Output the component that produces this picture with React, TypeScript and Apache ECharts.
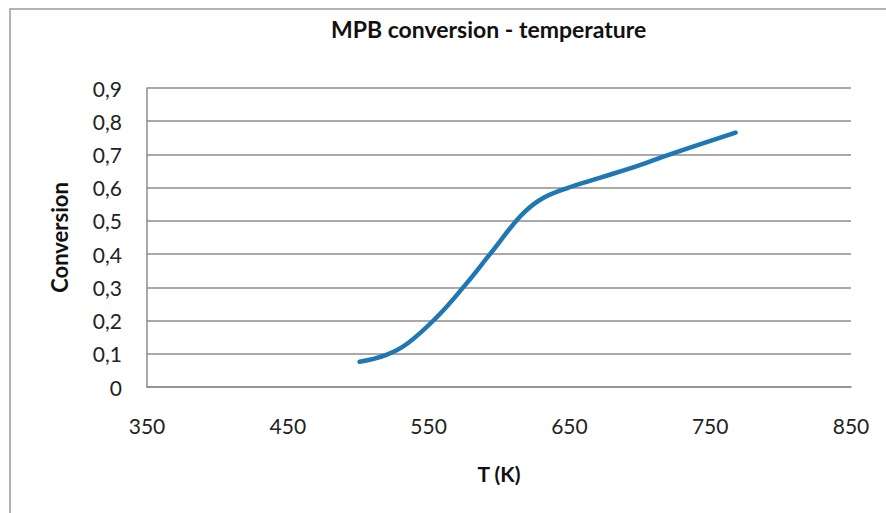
import React, { useEffect, useRef } from "react";
import * as echarts from "echarts";

const temperatures = [501, 520, 535, 556, 575, 594, 615, 629, 648, 672, 700, 724, 768];
const conversions = [0.076, 0.097, 0.131, 0.211, 0.302, 0.402, 0.513, 0.563, 0.598, 0.630, 0.668, 0.704, 0.766];

const TITLE = "MPB conversion - temperature";
const X_NAME = "T (K)";
const Y_NAME = "Conversion";

const FONT = "Lato, 'Open Sans', sans-serif";

export default function App() {
  const ref = useRef<HTMLDivElement>(null);
  useEffect(() => {
    if (!ref.current) return;
    const chart = echarts.init(ref.current, null, { renderer: "svg" });
    const data = temperatures.map((t, i) => [t, conversions[i]]);
    chart.setOption({
      animation: false,
      backgroundColor: "#ffffff",
      title: {
        text: TITLE,
        left: 326,
        top: 12,
        textStyle: { fontFamily: FONT, fontSize: 23, fontWeight: "bold", color: "#111" },
      },
      graphic: [
        {
          type: "rect",
          shape: { x: 10, y: 9, width: 1000, height: 600 },
          style: { fill: "none", stroke: "#9a9a9a", lineWidth: 1.5 },
          silent: true,
          z: -1,
        },
      ],
      grid: { left: 147, right: 35, top: 88, bottom: 126 },
      xAxis: {
        type: "value",
        min: 350,
        max: 850,
        interval: 100,
        name: X_NAME,
        nameLocation: "middle",
        nameGap: 76,
        nameTextStyle: { fontFamily: FONT, fontSize: 21, fontWeight: "bold", color: "#111" },
        axisLine: { show: true, lineStyle: { color: "#8c8c8c", width: 1.5 } },
        axisTick: { show: false },
        splitLine: { show: false },
        axisLabel: { fontFamily: FONT, fontSize: 21, color: "#222", margin: 28 },
      },
      yAxis: {
        type: "value",
        min: 0,
        max: 0.9,
        interval: 0.1,
        name: Y_NAME,
        nameLocation: "middle",
        nameGap: 77,
        nameTextStyle: { fontFamily: FONT, fontSize: 22, fontWeight: "bold", color: "#111" },
        axisLine: { show: true, lineStyle: { color: "#8c8c8c", width: 1.5 } },
        axisTick: { show: false },
        splitLine: { show: true, lineStyle: { color: "#8c8c8c", width: 1.5 } },
        axisLabel: {
          fontFamily: FONT,
          fontSize: 21,
          color: "#222",
          margin: 25,
          formatter: (v: number) => (v === 0 ? "0" : v.toFixed(1).replace(".", ",")),
        },
      },
      series: [
        {
          type: "line",
          data,
          smooth: 0.4,
          showSymbol: false,
          symbol: "none",
          lineStyle: { color: "#1f77b4", width: 4.5, cap: "round" },
        },
      ],
    });
    return () => chart.dispose();
  }, []);
  return (
    <div
      ref={ref}
      style={{ position: "fixed", left: 0, top: 0, width: 886, height: 513, background: "#fff" }}
    />
  );
}
